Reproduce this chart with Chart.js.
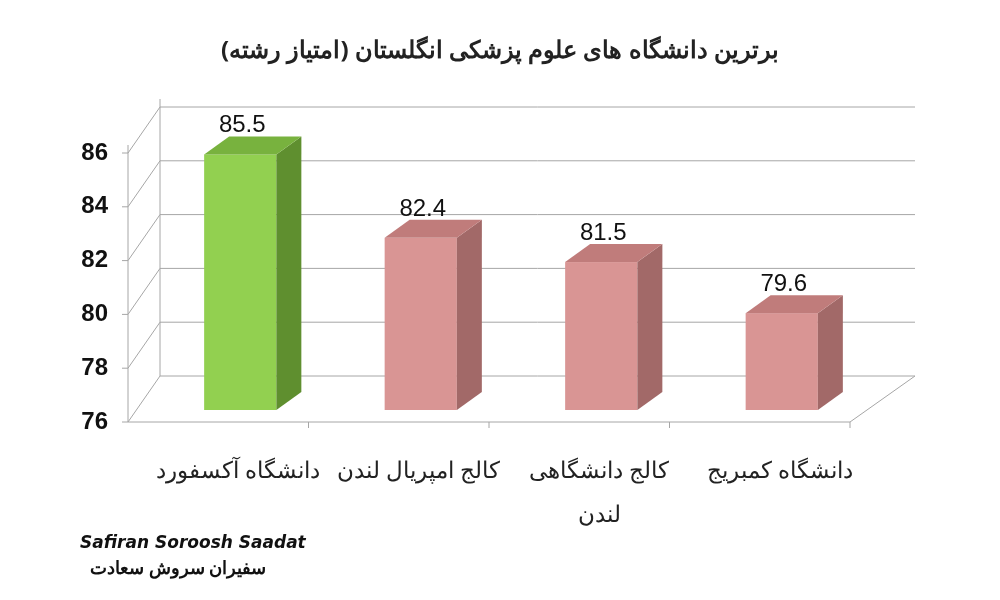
<!DOCTYPE html>
<html><head><meta charset="utf-8">
<script src="https://cdn.jsdelivr.net/npm/chart.js@4"></script>
<style>body{margin:0;background:#fff}#wrap{width:1000px;height:600px;position:relative}
#logo{position:absolute;left:80px;top:532px;font:italic bold 17px "DejaVu Sans";color:#111}
#logo2{position:absolute;left:90px;top:555px;font:bold 18px "Noto Sans";color:#111}</style>
</head><body><div id="wrap"><canvas id="c" width="1000" height="600"></canvas>
<div id="logo">Safiran Soroosh Saadat</div><div id="logo2" dir="rtl">سفیران سروش سعادت</div></div>
<script>
const categories = ['دانشگاه آکسفورد', 'کالج امپریال لندن', ['کالج دانشگاهی', 'لندن'], 'دانشگاه کمبریج'];
const values = [85.5, 82.4, 81.5, 79.6];
const yTicks = [76, 78, 80, 82, 84, 86];
const title = 'برترین دانشگاه های علوم پزشکی انگلستان (امتیاز رشته)';
const fronts = ['#92d050', '#d99594', '#d99594', '#d99594'];
const tops = ['#78b23e', '#c07c7b', '#c07c7b', '#c07c7b'];
const sides = ['#5f8f2f', '#a26968', '#a26968', '#a26968'];
const DX = 25, DY = -18, WX = 32, WY = -46, SX = 22, SY = -12;

const threeD = {
  id: 'threeD',
  beforeDatasetsDraw(chart) {
    const {ctx, chartArea: a, scales: {x, y}} = chart;
    ctx.save();
    ctx.fillStyle = '#222'; ctx.font = 'bold 24px "Noto Sans"'; ctx.textAlign = 'center';
    ctx.fillText(title, 500, 58);
    ctx.font = '23px "Noto Sans"';
    categories.forEach((c, i) => {
      const lines = Array.isArray(c) ? c : [c];
      lines.forEach((s, k) => ctx.fillText(s, x.getPixelForValue(i) + 20, 478 + k * 44));
    });
    ctx.strokeStyle = '#a6a6a6'; ctx.lineWidth = 1;
    yTicks.forEach(t => {
      const py = y.getPixelForValue(t);
      ctx.beginPath(); ctx.moveTo(a.left, py); ctx.lineTo(a.left + WX, py + WY);
      ctx.lineTo(a.right + WX + 33, py + WY); ctx.stroke();
      ctx.beginPath(); ctx.moveTo(a.left - 6, py); ctx.lineTo(a.left, py); ctx.stroke();
    });
    ctx.beginPath(); ctx.moveTo(a.left, a.top - 8); ctx.lineTo(a.left, a.bottom);
    ctx.lineTo(a.right, a.bottom); ctx.lineTo(a.right + WX + 33, a.bottom + WY);
    ctx.moveTo(a.left + WX, a.top + WY - 8); ctx.lineTo(a.left + WX, a.bottom + WY); ctx.stroke();
    for (let i = 1; i <= categories.length; i++) {
      const px = a.left + (a.right - a.left) * i / categories.length;
      ctx.beginPath(); ctx.moveTo(px, a.bottom); ctx.lineTo(px, a.bottom + 6); ctx.stroke();
    }
    ctx.restore();
  },
  afterDatasetsDraw(chart) {
    const {ctx, scales: {y}} = chart;
    const base = y.getPixelForValue(76) + SY;
    chart.getDatasetMeta(0).data.forEach((b, i) => {
      const l = b.x - b.width / 2 + SX, r = b.x + b.width / 2 + SX, t = b.y + SY;
      ctx.fillStyle = fronts[i]; ctx.fillRect(l, t, r - l, base - t);
      ctx.fillStyle = sides[i];
      ctx.beginPath(); ctx.moveTo(r, t); ctx.lineTo(r + DX, t + DY); ctx.lineTo(r + DX, base + DY); ctx.lineTo(r, base); ctx.fill();
      ctx.fillStyle = tops[i];
      ctx.beginPath(); ctx.moveTo(l, t); ctx.lineTo(l + DX, t + DY); ctx.lineTo(r + DX, t + DY); ctx.lineTo(r, t); ctx.fill();
      ctx.fillStyle = '#111'; ctx.font = '24px "Liberation Sans"'; ctx.textAlign = 'center';
      ctx.fillText(values[i].toFixed(1), (l + r) / 2 + 2, t + DY - 4);
    });
  }
};

new Chart(document.getElementById('c'), {
  type: 'bar',
  data: { labels: categories, datasets: [{ data: values, backgroundColor: 'rgba(0,0,0,0)', barPercentage: 0.4, categoryPercentage: 1 }] },
  options: {
    responsive: false, animation: false,
    layout: { padding: { left: 0, right: 150, top: 153, bottom: 0 } },
    plugins: { legend: { display: false }, tooltip: { enabled: false }, title: { display: false } },
    scales: {
      y: { min: 76, max: 86, afterFit: s => { s.width = 128; },
        ticks: { stepSize: 2, color: '#111', font: { family: 'Liberation Sans', size: 24, weight: 'bold' }, padding: 12 },
        grid: { display: false }, border: { display: false } },
      x: { afterFit: s => { s.height = 178; }, ticks: { display: false },
        grid: { display: false }, border: { display: false } }
    }
  },
  plugins: [threeD]
});
</script></body></html>
